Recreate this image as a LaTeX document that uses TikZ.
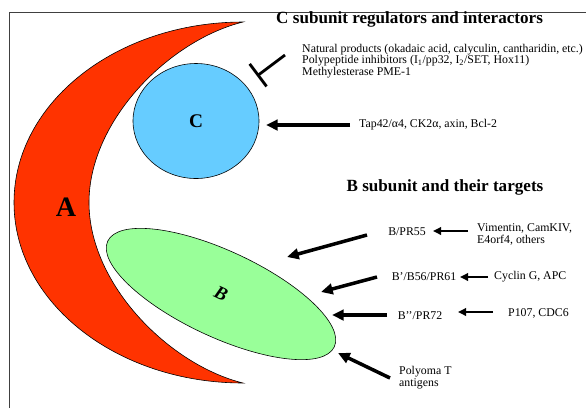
\documentclass[tikz,border=0pt]{standalone}
\usepackage{fontspec}
\setmainfont{Liberation Serif}
\usepackage{tikz}
\usetikzlibrary{shapes.geometric,arrows.meta}
\definecolor{Ared}{HTML}{FF3300}
\definecolor{Cblue}{HTML}{66CCFF}
\definecolor{Bgreen}{HTML}{99FF99}

\begin{document}
\begin{tikzpicture}[x=0.03cm,y=-0.03cm,
  bigarrow/.style={line width=3pt,-{Triangle[length=10pt,width=9pt]}},
  smallarrow/.style={line width=1.8pt,-{Triangle[length=7pt,width=6.5pt]}},
  inhibit/.style={line width=2.4pt,-{Bar[width=24pt]}},
  info/.style={font=\fontsize{10.1}{10}\selectfont,align=left,inner sep=0pt},
  heading/.style={font=\fontsize{14.6}{16}\selectfont\bfseries,inner sep=0pt}]
\useasboundingbox (0,0) rectangle (586,408);
% Frame
\draw[line width=0.8pt,black!75] (9,408) -- (9,12) -- (586,12);

% Subunit A
\draw[fill=Ared,line width=0.5pt] (243,22) .. controls (116.5,22) and (14,102.8) .. (14,202.5)
  .. controls (14,302.2) and (116.5,383) .. (243,383)
  .. controls (170,365) and (89,285) .. (89,202.5)
  .. controls (89,120) and (170,40) .. (243,22) -- cycle;
\node[font=\fontsize{24}{24}\selectfont\bfseries] (Asub) at (66,207) {A};

% Subunit C
\node[ellipse,draw,fill=Cblue,line width=0.5pt,minimum width=3.78cm,minimum height=3.45cm,
  inner sep=0pt,font=\fontsize{16.5}{16.5}\selectfont\bfseries] (Csub) at (196,121) {C};
\node[heading,anchor=west] (ctitle) at (276,19) {C subunit regulators and interactors};
\node[info,anchor=west] (cinhib) at (302,61) {Natural products (okadaic acid, calyculin, cantharidin, etc.)\\
  Polypeptide inhibitors (I\textsubscript{1}/pp32, I\textsubscript{2}/SET, Hox11)\\
  Methylesterase PME-1};
\node[info,anchor=west] (ctap) at (359,125) {Tap42/α4, CK2α, axin, Bcl-2};
\coordinate (inhtail) at (285,55);
\coordinate (inhbar) at (257,76);
\coordinate (taptail) at (350,125);
\coordinate (taptip) at (266,125);
\draw[inhibit] (inhtail) -- (inhbar);
\draw[bigarrow] (taptail) -- (taptip);

% Subunit B
\node[ellipse,draw,fill=Bgreen,line width=0.5pt,minimum width=7.5cm,minimum height=2.58cm,
  inner sep=0pt,rotate=-25,font=\fontsize{16}{16}\selectfont\bfseries\itshape] (Bsub) at (221,294) {B};
\node[heading] (btitle) at (445,187) {B subunit and their targets};
\node[info] (pr55) at (407,232) {B/PR55};
\node[info,anchor=west] (vim) at (477,234.5) {Vimentin, CamKIV,\\E4orf4, others};
\node[info] (b56) at (424,277) {B’/B56/PR61};
\node[info,anchor=west] (cyc) at (494,277) {Cyclin G, APC};
\node[info] (pr72) at (420,316) {B’’/PR72};
\node[info,anchor=west] (p107) at (508,313) {P107, CDC6};
\node[info,anchor=west] (poly) at (399,377.5) {Polyoma T\\antigens};
\coordinate (pr55tail) at (367,235);
\coordinate (pr55tip) at (287,257);
\coordinate (b56tail) at (377,277);
\coordinate (b56tip) at (321,292);
\coordinate (pr72tail) at (387,315);
\coordinate (pr72tip) at (332,315);
\coordinate (polytail) at (390,378);
\coordinate (polytip) at (338,353);
\coordinate (vimtail) at (468,231);
\coordinate (vimtip) at (433,231);
\coordinate (cyctail) at (488,277);
\coordinate (cyctip) at (460,277);
\coordinate (p107tail) at (493,312);
\coordinate (p107tip) at (458,312);
\draw[bigarrow] (pr55tail) -- (pr55tip);
\draw[bigarrow] (b56tail) -- (b56tip);
\draw[bigarrow] (pr72tail) -- (pr72tip);
\draw[bigarrow] (polytail) -- (polytip);
\draw[smallarrow] (vimtail) -- (vimtip);
\draw[smallarrow] (cyctail) -- (cyctip);
\draw[smallarrow] (p107tail) -- (p107tip);
\end{tikzpicture}
\end{document}
